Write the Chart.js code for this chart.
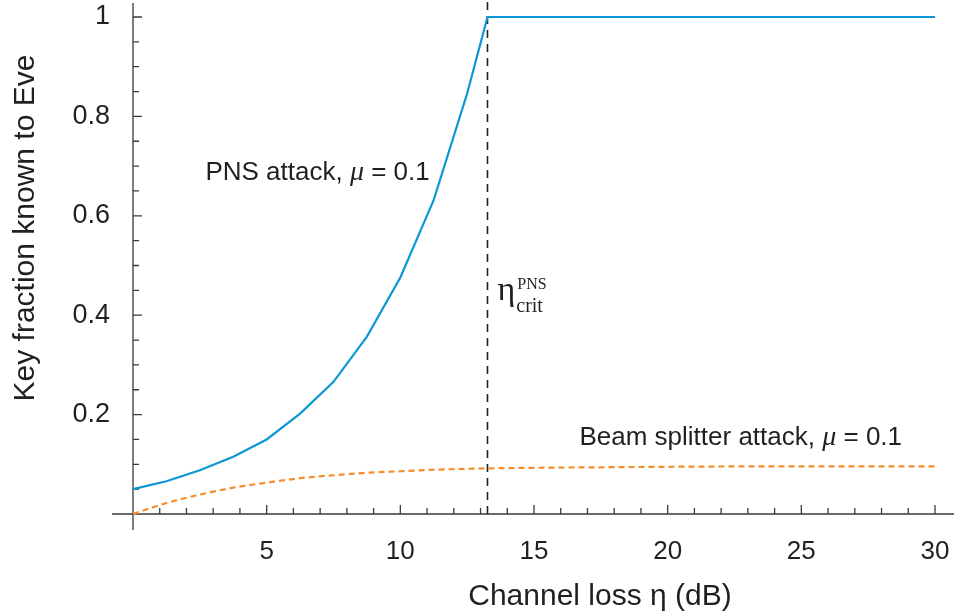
<!DOCTYPE html>
<html>
<head>
<meta charset="utf-8">
<script src="https://cdn.jsdelivr.net/npm/chart.js@4.4.0/dist/chart.umd.min.js"></script>
<style>
  html, body { margin: 0; padding: 0; background: #fff; }
</style>
</head>
<body>
<canvas id="myChart" width="954" height="616"></canvas>
<script>
// channel loss (dB) vs key fraction known to Eve
const pnsLoss = [0, 1.25, 2.5, 3.75, 5, 6.25, 7.5, 8.75, 10, 11.25, 12.5, 13.26, 30];
const pnsFraction = [0.05, 0.066, 0.088, 0.115, 0.15, 0.202, 0.266, 0.357, 0.476, 0.632, 0.846, 1, 1];
const bsLoss = [0, 1.25, 2.5, 3.75, 5, 6.25, 7.5, 8.75, 10, 11.25, 12.5, 15, 17.5, 20, 25, 30];
const bsFraction = [0, 0.022, 0.039, 0.053, 0.063, 0.072, 0.078, 0.083, 0.086, 0.089, 0.091, 0.093, 0.094, 0.095, 0.096, 0.096];
const critLoss = 13.26;
const xTicks = [5, 10, 15, 20, 25, 30];
const yTicks = [0.2, 0.4, 0.6, 0.8, 1];
const yTickLabels = ["0.2", "0.4", "0.6", "0.8", "1"];

const sans = "'Liberation Sans', Arial, sans-serif";
const serif = "'Liberation Serif', 'Times New Roman', serif";
const ink = "#231f20";

function toPoints(xs, ys) {
  return xs.map((x, i) => ({ x: x, y: ys[i] }));
}

function drawRich(ctx, parts, x, y, align) {
  let total = 0;
  parts.forEach((p) => {
    ctx.font = p.f;
    total += ctx.measureText(p.t).width;
  });
  let cx = align === "right" ? x - total : x;
  ctx.textAlign = "left";
  ctx.textBaseline = "middle";
  parts.forEach((p) => {
    ctx.font = p.f;
    ctx.fillText(p.t, cx, y + (p.dy || 0));
    cx += ctx.measureText(p.t).width;
  });
}

const axesPlugin = {
  id: "axesPlugin",
  beforeDatasetsDraw(chart) {
    const ctx = chart.ctx;
    const xs = chart.scales.x;
    const ys = chart.scales.y;
    const x0 = xs.getPixelForValue(0);
    const y0 = ys.getPixelForValue(0);
    ctx.save();
    ctx.strokeStyle = "#3a3a3a";
    ctx.lineWidth = 1.3;
    ctx.beginPath();
    ctx.moveTo(x0 - 21, y0);
    ctx.lineTo(chart.width, y0);
    ctx.moveTo(x0, 3);
    ctx.lineTo(x0, y0 + 16);
    for (let i = 1; i <= 30; i++) {
      const px = xs.getPixelForValue(i);
      const len = i % 5 === 0 ? 9 : 6;
      ctx.moveTo(px, y0);
      ctx.lineTo(px, y0 - len);
    }
    for (let k = 1; k <= 20; k++) {
      const py = ys.getPixelForValue(k * 0.05);
      const len = k % 4 === 0 ? 9 : 6;
      ctx.moveTo(x0, py);
      ctx.lineTo(x0 + len, py);
    }
    ctx.stroke();
    ctx.restore();
  },
  afterDatasetsDraw(chart) {
    const ctx = chart.ctx;
    const xs = chart.scales.x;
    const ys = chart.scales.y;
    ctx.save();
    ctx.fillStyle = ink;

    // axis titles
    ctx.font = "30px " + sans;
    ctx.textAlign = "center";
    ctx.textBaseline = "middle";
    ctx.fillText("Channel loss \u03b7 (dB)", 600, 597);
    ctx.save();
    ctx.translate(26, 228);
    ctx.rotate(-Math.PI / 2);
    ctx.fillText("Key fraction known to Eve", 0, 0);
    ctx.restore();

    // curve labels
    drawRich(ctx, [
      { t: "PNS attack, ", f: "26px " + sans },
      { t: "\u03bc", f: "italic 28px " + serif },
      { t: " = 0.1", f: "26px " + sans }
    ], xs.getPixelForValue(11.1), ys.getPixelForValue(0.686), "right");

    drawRich(ctx, [
      { t: "Beam splitter attack, ", f: "26px " + sans },
      { t: "\u03bc", f: "italic 28px " + serif },
      { t: " = 0.1", f: "26px " + sans }
    ], xs.getPixelForValue(16.7), ys.getPixelForValue(0.153), "left");

    // eta_crit^PNS
    const ex = xs.getPixelForValue(critLoss) + 10;
    const ey = ys.getPixelForValue(0.43);
    ctx.textAlign = "left";
    ctx.textBaseline = "alphabetic";
    ctx.font = "34px " + serif;
    ctx.fillText("\u03b7", ex, ey);
    const ew = ctx.measureText("\u03b7").width;
    ctx.font = "16px " + serif;
    ctx.fillText("PNS", ex + ew + 2, ey - 11);
    ctx.font = "20px " + serif;
    ctx.fillText("crit", ex + ew + 1, ey + 12);
    ctx.restore();
  }
};

const ctx = document.getElementById("myChart");

const myChart = new Chart(ctx, {
  type: "line",
  data: {
    datasets: [
      {
        label: "PNS attack",
        data: toPoints(pnsLoss, pnsFraction),
        borderColor: "#0c97d6",
        borderWidth: 2.2,
        pointRadius: 0,
        tension: 0,
        clip: false,
      },
      {
        label: "Beam splitter attack",
        data: toPoints(bsLoss, bsFraction),
        borderColor: "#f58d2b",
        borderWidth: 2.2,
        borderDash: [6, 4],
        pointRadius: 0,
        cubicInterpolationMode: "monotone",
        clip: false,
      },
      {
        label: "critical loss",
        data: [{ x: critLoss, y: 0 }, { x: critLoss, y: 1.04 }],
        borderColor: "#222",
        borderWidth: 1.6,
        borderDash: [8, 6],
        pointRadius: 0,
        clip: false,
      },
    ],
  },
  options: {
    responsive: false,
    animation: false,
    layout: {
      padding: { top: 17, right: 19, left: 0, bottom: 0 },
    },
    plugins: {
      legend: false,
      tooltip: { enabled: false },
    },
    scales: {
      x: {
        type: "linear",
        min: 0,
        max: 30,
        afterFit: (s) => {
          s.height = 102;
          s.paddingLeft = 0;
          s.paddingRight = 0;
        },
        grid: { display: false, drawTicks: false },
        border: { display: false },
        ticks: {
          stepSize: 1,
          autoSkip: false,
          maxRotation: 0,
          padding: 22,
          color: ink,
          font: { family: sans, size: 26 },
          callback: (v) => (xTicks.includes(v) ? String(v) : ""),
        },
      },
      y: {
        min: 0,
        max: 1,
        afterFit: (s) => {
          s.width = 133;
          s.paddingTop = 0;
          s.paddingBottom = 0;
        },
        grid: { display: false, drawTicks: false },
        border: { display: false },
        ticks: {
          stepSize: 0.05,
          autoSkip: false,
          padding: 23,
          color: ink,
          font: { family: sans, size: 27 },
          callback: (v) => {
            const i = yTicks.findIndex((t) => Math.abs(t - v) < 1e-6);
            return i >= 0 ? yTickLabels[i] : "";
          },
        },
      },
    },
  },
  plugins: [axesPlugin],
});
</script>
</body>
</html>
